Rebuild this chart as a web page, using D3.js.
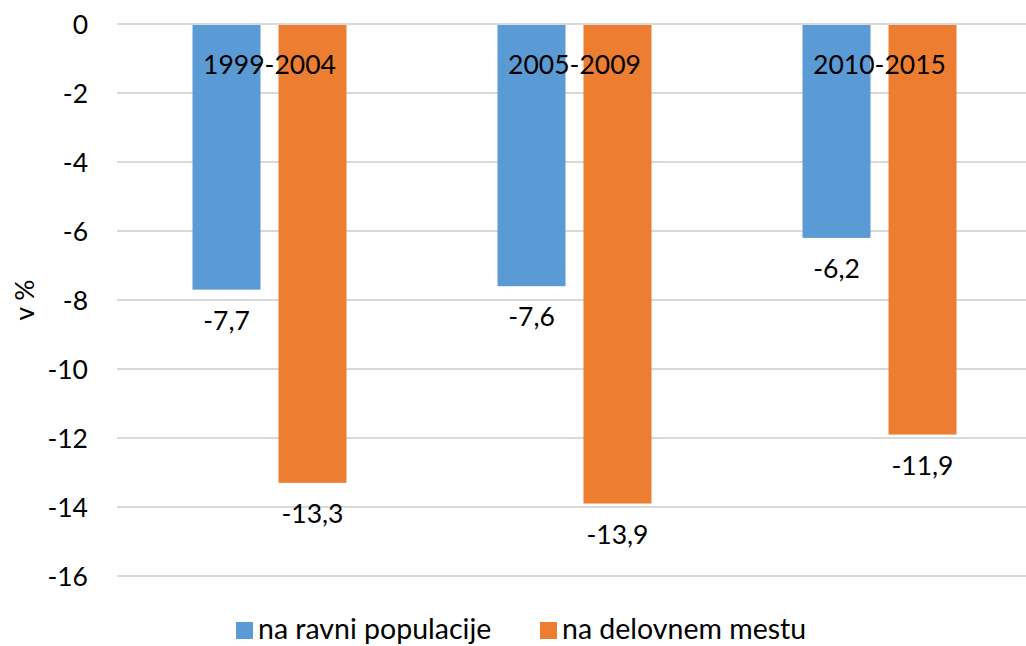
<!DOCTYPE html>
<html lang="sl">
<head>
<meta charset="utf-8" />
<title>v %</title>
<script src="https://d3js.org/d3.v7.min.js"></script>
<style>
  body { margin: 0; background: #fff; }
  text { font-family: Lato, "Liberation Sans", sans-serif; fill: #000; }
</style>
</head>
<body>
<svg id="chart" width="1026" height="646"></svg>
<script>
  // data
  const periods = ["1999-2004", "2005-2009", "2010-2015"];
  const seriesNames = ["na ravni populacije", "na delovnem mestu"];
  const populacija = [-7.7, -7.6, -6.2];
  const delovnoMesto = [-13.3, -13.9, -11.9];
  const yTicks = [0, -2, -4, -6, -8, -10, -12, -14, -16];
  const colors = ["#5B9BD5", "#ED7D31"];

  const svg = d3.select("#chart");
  const fs = 26.5;

  const x = d3.scaleBand().domain(periods).range([117, 1032]);
  const xs = d3.scaleBand().domain([0, 1]).range([0, 68 * 2 + 18]).paddingInner(18 / 86);
  const y = d3.scaleLinear().domain([0, -16]).range([24, 576]);

  // gridlines
  svg.append("g").selectAll("line")
    .data(yTicks).enter().append("line")
    .attr("x1", 117).attr("x2", 1026)
    .attr("y1", d => y(d)).attr("y2", d => y(d))
    .attr("stroke", "#D9D9D9").attr("stroke-width", 2);

  // tick labels
  svg.append("g").selectAll("text")
    .data(yTicks).enter().append("text")
    .attr("x", 88).attr("y", d => y(d))
    .attr("dy", "0.36em")
    .attr("text-anchor", "end")
    .style("font-size", fs + "px")
    .text(d => d);

  // axis title
  svg.append("text")
    .attr("transform", "translate(34," + y(-8) + ") rotate(-90)")
    .attr("text-anchor", "middle")
    .style("font-size", fs + "px")
    .text("v %");

  const series = [populacija, delovnoMesto];
  const rows = [];
  periods.forEach((p, i) => series.forEach((s, j) => rows.push({ p: p, j: j, v: s[i] })));

  const groupW = xs.range()[1];
  const gx = p => x(p) + x.bandwidth() / 2 - groupW / 2;

  svg.append("g").selectAll("rect")
    .data(rows).enter().append("rect")
    .attr("x", d => gx(d.p) + xs(d.j))
    .attr("y", y(0) + 1)
    .attr("width", xs.bandwidth())
    .attr("height", d => y(d.v) - y(0) - 1)
    .attr("fill", d => colors[d.j]);

  // value labels
  svg.append("g").selectAll("text")
    .data(rows).enter().append("text")
    .attr("x", d => gx(d.p) + xs(d.j) + xs.bandwidth() / 2)
    .attr("y", d => y(d.v) + 40)
    .attr("text-anchor", "middle")
    .style("font-size", fs + "px")
    .text(d => String(d.v).replace(".", ","));

  // category labels
  svg.append("g").selectAll("text")
    .data(periods).enter().append("text")
    .attr("x", d => x(d) + x.bandwidth() / 2)
    .attr("y", 74)
    .attr("text-anchor", "middle")
    .style("font-size", fs + "px")
    .text(d => d);

  // legend
  const legendX = [236, 540];
  const legend = svg.append("g").selectAll("g")
    .data(seriesNames).enter().append("g")
    .attr("transform", (d, i) => "translate(" + legendX[i] + ",622)");
  legend.append("rect")
    .attr("width", 17).attr("height", 17)
    .attr("fill", (d, i) => colors[i]);
  legend.append("text")
    .attr("x", 22).attr("y", 17)
    .style("font-size", "28.5px")
    .text(d => d);
</script>
</body>
</html>
